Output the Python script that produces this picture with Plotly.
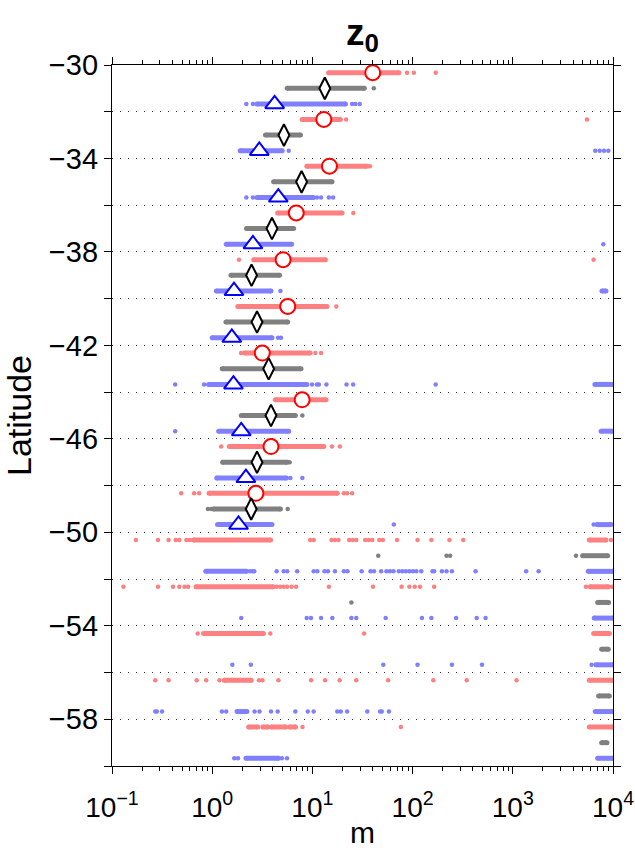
import plotly.graph_objects as go

# ---------------- data ----------------
# dense strips of points: latitude, lower and upper value (m)
red_strip_lat = [-30.33, -32.33, -34.33, -36.33, -38.33, -40.33, -42.33, -44.33, -46.33, -48.33,
                 -50.33, -50.33, -52.33, -52.33, -54.33, -54.33, -56.33, -56.33,
                 -58.33, -58.33, -58.33, -58.33, -58.33]
red_strip_lo = [14.5, 7.9, 8.8, 4.5, 2.6, 1.8, 2.1, 4.27, 1.48, 0.93,
                0.65, 5800, 0.69, 5930, 0.82, 6410, 1.32, 5800,
                2.31, 3.2, 3.9, 5.9, 5800]
red_strip_hi = [73, 19, 35, 19.8, 13.5, 14, 9.5, 13.7, 13, 17.7,
                3.83, 8510, 4.05, 8980, 3.25, 9190, 2.45, 9950,
                2.85, 3.6, 5.4, 6.8, 9950]

black_strip_lat = [-31, -33, -35, -37, -39, -41, -43, -45, -47, -49,
                   -51, -53, -55, -57, -59]
black_strip_lo = [5.6, 3.4, 4.1, 2.2, 1.54, 1.37, 1.26, 1.95, 1.27, 1.03,
                  4970, 7030, 7700, 7190, 7700]
black_strip_hi = [33, 7.6, 15.7, 6.5, 4.7, 5.67, 7.7, 6.76, 5.6, 4.8,
                  8850, 9050, 8980, 9190, 8710]

blue_strip_lat = [-31.67, -33.67, -35.67, -37.67, -39.67, -39.67, -41.67, -43.67, -43.67,
                  -45.67, -45.67, -47.67, -49.67, -49.67, -51.67, -51.67, -53.67, -55.67,
                  -57.67, -57.67, -59.67, -59.67]
blue_strip_lo = [2.8, 1.9, 2.8, 1.38, 1.1, 7760, 1.0, 0.92, 6600,
                 1.16, 7600, 1.11, 1.13, 6920, 0.863, 5660, 6500, 6760,
                 1.77, 6650, 2.17, 7030]
blue_strip_hi = [21.4, 5.0, 10.2, 6.2, 3.86, 8510, 3.95, 8.8, 9900,
                 5.8, 9900, 5.5, 3.95, 9550, 2.2, 9950, 9950, 9950,
                 2.22, 9950, 4.6, 9930]

# isolated points: latitude and value (m)
red_dot_lat = ([-30.33] * 3 + [-32.33] * 2 + [-34.33] + [-36.33] + [-38.33] * 2 + [-40.33]
               + [-42.33] * 3 + [-46.33] * 3 + [-48.33] * 6 + [-50.33] * 26 + [-52.33] * 21
               + [-54.33] * 3 + [-56.33] * 16 + [-58.33] * 2)
red_dot_x = [88, 103, 170,
             21.7, 5500,
             37.5,
             25.6,
             1.85, 6400,
             17.3,
             1.94, 10.7, 12.2,
             1.23, 15.7, 18.8,
             0.49, 0.66, 0.74, 20.6, 22.2, 24.9,
             0.173, 0.288, 0.367, 0.432, 0.469, 0.552, 0.598, 9.5, 10.3, 15.5, 16.8, 18.2, 23.3,
             25.3, 27.4, 33.6, 36.5, 39.6, 46.5, 50.5, 70, 112, 154, 233, 320, 9550,
             0.13, 0.288, 0.406, 0.469, 0.53, 0.575, 4.4, 4.77, 5.17, 5.6, 6.2, 6.87, 14.6, 40.2,
             77.6, 92.9, 105, 118.6, 164, 5370, 9770,
             0.716, 3.8, 32.8,
             0.27, 0.367, 0.70, 0.87, 1.18, 2.93, 3.17, 4.58, 9.7, 13.4, 18.7, 27.4, 57, 161, 347, 1090,
             7.96, 76.4]

black_dot_lat = [-31, -45, -47, -49, -49, -49, -51, -51, -51, -51, -53]
black_dot_x = [41, 7.94, 5.93, 0.905, 0.977, 5.67, 45.4, 218, 237, 4270, 24.5]

blue_dot_lat = ([-31.67] * 5 + [-33.67] * 5 + [-35.67] * 6 + [-37.67] + [-39.67] + [-41.67] * 2
                + [-43.67] * 9 + [-45.67] + [-47.67] * 2 + [-49.67] * 2 + [-51.67] * 36
                + [-53.67] * 13 + [-55.67] * 7 + [-57.67] * 19 + [-59.67] * 4)
blue_dot_x = [2.19, 2.55, 24.9, 26.9, 29.7,
              5.8, 6650, 7360, 8130, 8980,
              2.19, 2.55, 11.1, 12.2, 14.6, 16.1,
              8000,
              4.8,
              4.54, 4.86,
              0.427, 0.83, 9.93, 11.1, 11.6, 13.8, 21.9, 25.5, 170,
              0.427,
              6.03, 7.94,
              65, 6410,
              2.39, 2.53, 2.63, 4.4, 5.17, 5.6, 7.05, 10.3, 11.2, 13.2, 14.3, 16.8, 20.6, 22.4, 31,
              38, 41.2, 48.5, 54.8, 59.4, 64.5, 72.8, 79, 85.7, 93, 101, 109, 122, 158, 164, 196,
              218, 247, 425, 1360, 1810,
              1.95, 8.77, 9.68, 12.2, 15.8, 24.5, 27.4, 53.8, 124, 154, 272, 436, 535,
              1.59, 2.43, 51, 112, 247, 493, 6120,
              0.27, 0.28, 0.316, 1.25, 1.38, 2.65, 2.97, 3.86, 4.5, 6.76, 9.0, 10.3, 17.7, 19.2,
              22.2, 35.3, 47.3, 49.3, 58,
              1.66, 1.81, 4.97, 5.58]

# median markers
red_med_lat = [-30.33, -32.33, -34.33, -36.33, -38.33, -40.33, -42.33, -44.33, -46.33, -48.33]
red_med_x = [40, 13, 14.8, 6.9, 5.1, 5.67, 3.16, 7.9, 3.86, 2.73]
black_med_lat = [-31, -33, -35, -37, -39, -41, -43, -45, -47, -49]
black_med_x = [13.3, 5.2, 7.8, 3.95, 2.47, 2.8, 3.66, 3.86, 2.8, 2.45]
blue_med_lat = [-31.67, -33.67, -35.67, -37.67, -39.67, -41.67, -43.67, -45.67, -47.67, -49.67]
blue_med_x = [4.2, 2.95, 4.57, 2.55, 1.65, 1.57, 1.63, 1.95, 2.17, 1.83]

# axis ticks
x_tick_vals = [0.1, 1, 10, 100, 1000, 10000]
x_tick_text = ["10<sup>\u22121</sup>", "10<sup>0</sup>", "10<sup>1</sup>",
               "10<sup>2</sup>", "10<sup>3</sup>", "10<sup>4</sup>"]
x_minor_vals = [k * 10.0 ** e for e in range(-1, 4) for k in range(2, 10)]
y_tick_vals = list(range(-30, -61, -4))
y_tick_text = ["\u2212%d" % (-v) for v in y_tick_vals]
y_minor_vals = list(range(-32, -61, -4))

# ---------------- figure ----------------
RED_DOT = "#ff8080"
GREY_DOT = "#808080"
BLUE_DOT = "#8080ff"


def strip_xy(lat, lo, hi):
    xs, ys = [], []
    for a, b, c in zip(lat, lo, hi):
        xs += [b, c, None]
        ys += [a, a, None]
    return xs, ys


fig = go.Figure()

for lat, lo, hi, col in [(red_strip_lat, red_strip_lo, red_strip_hi, RED_DOT),
                         (black_strip_lat, black_strip_lo, black_strip_hi, GREY_DOT),
                         (blue_strip_lat, blue_strip_lo, blue_strip_hi, BLUE_DOT)]:
    xs, ys = strip_xy(lat, lo, hi)
    fig.add_trace(go.Scatter(x=xs, y=ys, mode="lines+markers",
                             line=dict(color=col, width=5),
                             marker=dict(color=col, size=5),
                             hoverinfo="skip", connectgaps=False))

for lat, xv, col in [(red_dot_lat, red_dot_x, RED_DOT),
                     (black_dot_lat, black_dot_x, GREY_DOT),
                     (blue_dot_lat, blue_dot_x, BLUE_DOT)]:
    fig.add_trace(go.Scatter(x=xv, y=lat, mode="markers",
                             marker=dict(color=col, size=4.5)))

fig.add_trace(go.Scatter(x=red_med_x, y=red_med_lat, mode="markers",
                         marker=dict(symbol="circle", size=15, color="white",
                                     line=dict(color="#ff0000", width=2))))
fig.add_trace(go.Scatter(x=black_med_x, y=black_med_lat, mode="markers",
                         marker=dict(symbol="diamond-tall", size=15.5, color="white",
                                     line=dict(color="black", width=2))))
fig.add_trace(go.Scatter(x=blue_med_x, y=blue_med_lat, mode="markers",
                         marker=dict(symbol="triangle-up", size=16.5, color="white",
                                     line=dict(color="#0000ff", width=2))))

FONT = "Liberation Sans, Arial, Helvetica, sans-serif"
GRID = dict(gridcolor="#333333", gridwidth=1.2, griddash="1px,7px")

fig.update_layout(
    width=635, height=850,
    margin=dict(l=112, r=22, t=65, b=84, autoexpand=False),
    paper_bgcolor="white", plot_bgcolor="white",
    showlegend=False,
    font=dict(family=FONT, color="black", size=26),
    title=dict(text="<b>z<sub>0</sub></b>", x=0.5, xref="paper", xanchor="center",
               y=0.978, yref="container", yanchor="top", automargin=False,
               font=dict(family=FONT, size=37, color="black")),
    xaxis=dict(type="log", range=[-1, 4], automargin=False,
               tickmode="array", tickvals=x_tick_vals, ticktext=x_tick_text,
               ticks="outside", ticklen=7, tickwidth=1.2, tickcolor="black",
               showline=True, linecolor="black", linewidth=1.3, mirror="ticks",
               showgrid=False, zeroline=False,
               tickfont=dict(size=28), ticklabelstandoff=9,
               minor=dict(tickmode="array", tickvals=x_minor_vals, ticks="outside",
                          ticklen=4, tickwidth=1, tickcolor="black", showgrid=False),
               title=dict(text="m", font=dict(size=30), standoff=0)),
    yaxis=dict(range=[-60, -30], automargin=False,
               tickmode="array", tickvals=y_tick_vals, ticktext=y_tick_text,
               ticks="outside", ticklen=7, tickwidth=1.2, tickcolor="black",
               showline=True, linecolor="black", linewidth=1.3, mirror="ticks",
               showgrid=True, zeroline=False, tickfont=dict(size=29), ticklabelstandoff=0,
               minor=dict(tickmode="array", tickvals=y_minor_vals, ticks="outside",
                          ticklen=7, tickwidth=1.2, tickcolor="black", showgrid=True, **GRID),
               title=dict(text="Latitude", font=dict(size=34), standoff=8),
               **GRID),
)

fig.write_html("out.html", config={"displayModeBar": False},
               post_script="document.body.style.margin='0px';document.body.style.overflow='hidden';")
